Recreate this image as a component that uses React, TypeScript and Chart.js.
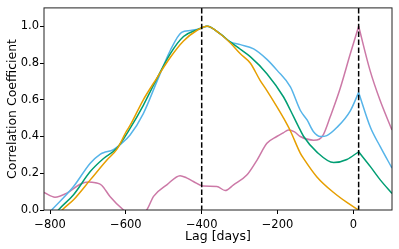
import React, { useEffect, useRef } from "react";
import { Chart, registerables } from "chart.js";

Chart.register(...registerables);

const X_MIN = -816;
const X_MAX = 102;
const Y_MIN = 0;
const Y_MAX = 1.1;
const xTicks = [-800, -600, -400, -200, 0];
const yTicks = [0, 0.2, 0.4, 0.6, 0.8, 1.0];
const vLines = [-400, 14];
const cuspLag = 14;

const orangeLag = [-795, -768, -738, -694, -650, -624, -598, -589, -554, -527, -483, -448, -413, -386, -351, -325, -298, -272, -246, -228, -201, -184, -166, -140, -131, -96, -52, -17, 14];
const orangeVal = [-0.07, 0, 0.056, 0.164, 0.272, 0.33, 0.43, 0.46, 0.6, 0.69, 0.83, 0.92, 0.977, 1.0, 0.958, 0.91, 0.85, 0.8, 0.706, 0.65, 0.56, 0.5, 0.43, 0.31, 0.28, 0.18, 0.095, 0.041, 0];

const greenLag = [-800, -778, -738, -694, -659, -624, -589, -554, -527, -483, -448, -413, -386, -351, -325, -298, -272, -228, -184, -166, -145, -131, -96, -52, -17, 14, 45, 71, 102];
const greenVal = [-0.06, 0, 0.083, 0.209, 0.28, 0.336, 0.444, 0.57, 0.68, 0.85, 0.944, 0.98, 1.0, 0.958, 0.915, 0.875, 0.835, 0.742, 0.615, 0.543, 0.455, 0.4, 0.315, 0.258, 0.275, 0.317, 0.236, 0.164, 0.09];

const blueLag = [-796, -738, -694, -668, -659, -633, -611, -589, -554, -518, -483, -453, -430, -404, -386, -351, -325, -298, -263, -228, -201, -166, -140, -122, -105, -87, -70, -43, -8, 14, 45, 71, 102];
const blueVal = [0, 0.128, 0.255, 0.303, 0.312, 0.328, 0.363, 0.408, 0.525, 0.7, 0.868, 0.967, 0.977, 0.986, 1.0, 0.958, 0.915, 0.9, 0.877, 0.82, 0.76, 0.67, 0.543, 0.49, 0.426, 0.4, 0.405, 0.45, 0.54, 0.64, 0.45, 0.345, 0.228];

const pinkLag = [-816, -787, -756, -721, -699, -680, -664, -642, -606, -575, -545, -527, -492, -457, -440, -422, -396, -360, -338, -316, -281, -254, -228, -202, -185, -171, -155, -140, -105, -90, -79, -61, -35, -8, 14, 44, 70, 102];
const pinkVal = [0.095, 0.07, 0.092, 0.14, 0.153, 0.148, 0.135, 0.074, 0, -0.04, 0, 0.074, 0.137, 0.187, 0.175, 0.155, 0.13, 0.128, 0.106, 0.137, 0.19, 0.272, 0.363, 0.4, 0.42, 0.435, 0.425, 0.4, 0.38, 0.385, 0.41, 0.507, 0.66, 0.85, 1.0, 0.76, 0.6, 0.435];

const seriesList = [
  { lag: orangeLag, val: orangeVal, color: "#E69F00" },
  { lag: greenLag, val: greenVal, color: "#009E73" },
  { lag: blueLag, val: blueVal, color: "#56B4E9" },
  { lag: pinkLag, val: pinkVal, color: "#CC79A7" },
];

const FONT = "'DejaVu Sans', sans-serif";

const fmtMinus = (v: number, d: number) => {
  const s = v.toFixed(d);
  return s.startsWith("-") ? "\u2212" + s.slice(1) : s;
};

const framePlugin = {
  id: "frameAndLines",
  afterDatasetsDraw(chart: any) {
    const { ctx, chartArea: a, scales } = chart;
    ctx.save();
    ctx.strokeStyle = "#000";
    ctx.lineWidth = 1.5;
    ctx.setLineDash([5.5, 2.4]);
    vLines.forEach((v) => {
      const px = scales.x.getPixelForValue(v);
      ctx.beginPath();
      ctx.moveTo(px, a.top);
      ctx.lineTo(px, a.bottom);
      ctx.stroke();
    });
    ctx.setLineDash([]);
    ctx.strokeStyle = "#222";
    ctx.lineWidth = 1;
    ctx.strokeRect(a.left, a.top, a.right - a.left, a.bottom - a.top);
    ctx.restore();
  },
};

export default function App() {
  const ref = useRef<HTMLCanvasElement | null>(null);
  useEffect(() => {
    document.body.style.margin = "0";
    if (!ref.current) return;
    const datasets: any[] = [];
    seriesList.forEach((s) => {
      const pts = s.lag.map((x, i) => ({ x, y: s.val[i] }));
      const left = pts.filter((p) => p.x <= cuspLag);
      const right = pts.filter((p) => p.x >= cuspLag);
      [left, right].forEach((part) => {
        if (part.length > 1) {
          datasets.push({
            data: part,
            borderColor: s.color,
            backgroundColor: s.color,
            borderWidth: 1.5,
            pointRadius: 0,
            fill: false,
            cubicInterpolationMode: "monotone",
          });
        }
      });
    });
    const chart = new Chart(ref.current, {
      type: "line",
      data: { datasets },
      plugins: [framePlugin],
      options: {
        animation: false,
        responsive: true,
        maintainAspectRatio: false,
        layout: { padding: { top: 7, right: 7, left: 0, bottom: 0 } },
        plugins: { legend: { display: false }, tooltip: { enabled: false } },
        scales: {
          x: {
            type: "linear",
            min: X_MIN,
            max: X_MAX,
            afterBuildTicks: (s: any) => {
              s.ticks = xTicks.map((v) => ({ value: v }));
            },
            afterFit: (s: any) => {
              s.height = 39;
            },
            grid: { display: true, drawOnChartArea: false, drawTicks: true, tickLength: 4, tickColor: "#000" },
            border: { display: false },
            ticks: {
              color: "#000",
              font: { family: FONT, size: 11.5 },
              padding: 4,
              maxRotation: 0,
              callback: (v: any) => fmtMinus(Number(v), 0),
            },
            title: {
              display: true,
              text: "Lag [days]",
              color: "#000",
              font: { family: FONT, size: 12.5 },
              padding: { top: 0, bottom: 5 },
            },
          },
          y: {
            type: "linear",
            min: Y_MIN,
            max: Y_MAX,
            afterBuildTicks: (s: any) => {
              s.ticks = yTicks.map((v) => ({ value: v }));
            },
            afterFit: (s: any) => {
              s.width = 44;
            },
            grid: { display: true, drawOnChartArea: false, drawTicks: true, tickLength: 4, tickColor: "#000" },
            border: { display: false },
            ticks: {
              color: "#000",
              font: { family: FONT, size: 11.5 },
              padding: 1,
              callback: (v: any) => fmtMinus(Number(v), 1),
            },
            title: {
              display: true,
              text: "Correlation Coefficient",
              color: "#000",
              font: { family: FONT, size: 12.5 },
              padding: { top: 5, bottom: 2 },
            },
          },
        },
      },
    });
    return () => chart.destroy();
  }, []);
  return (
    <div style={{ width: 399, height: 249, position: "relative" }}>
      <canvas ref={ref} />
    </div>
  );
}
